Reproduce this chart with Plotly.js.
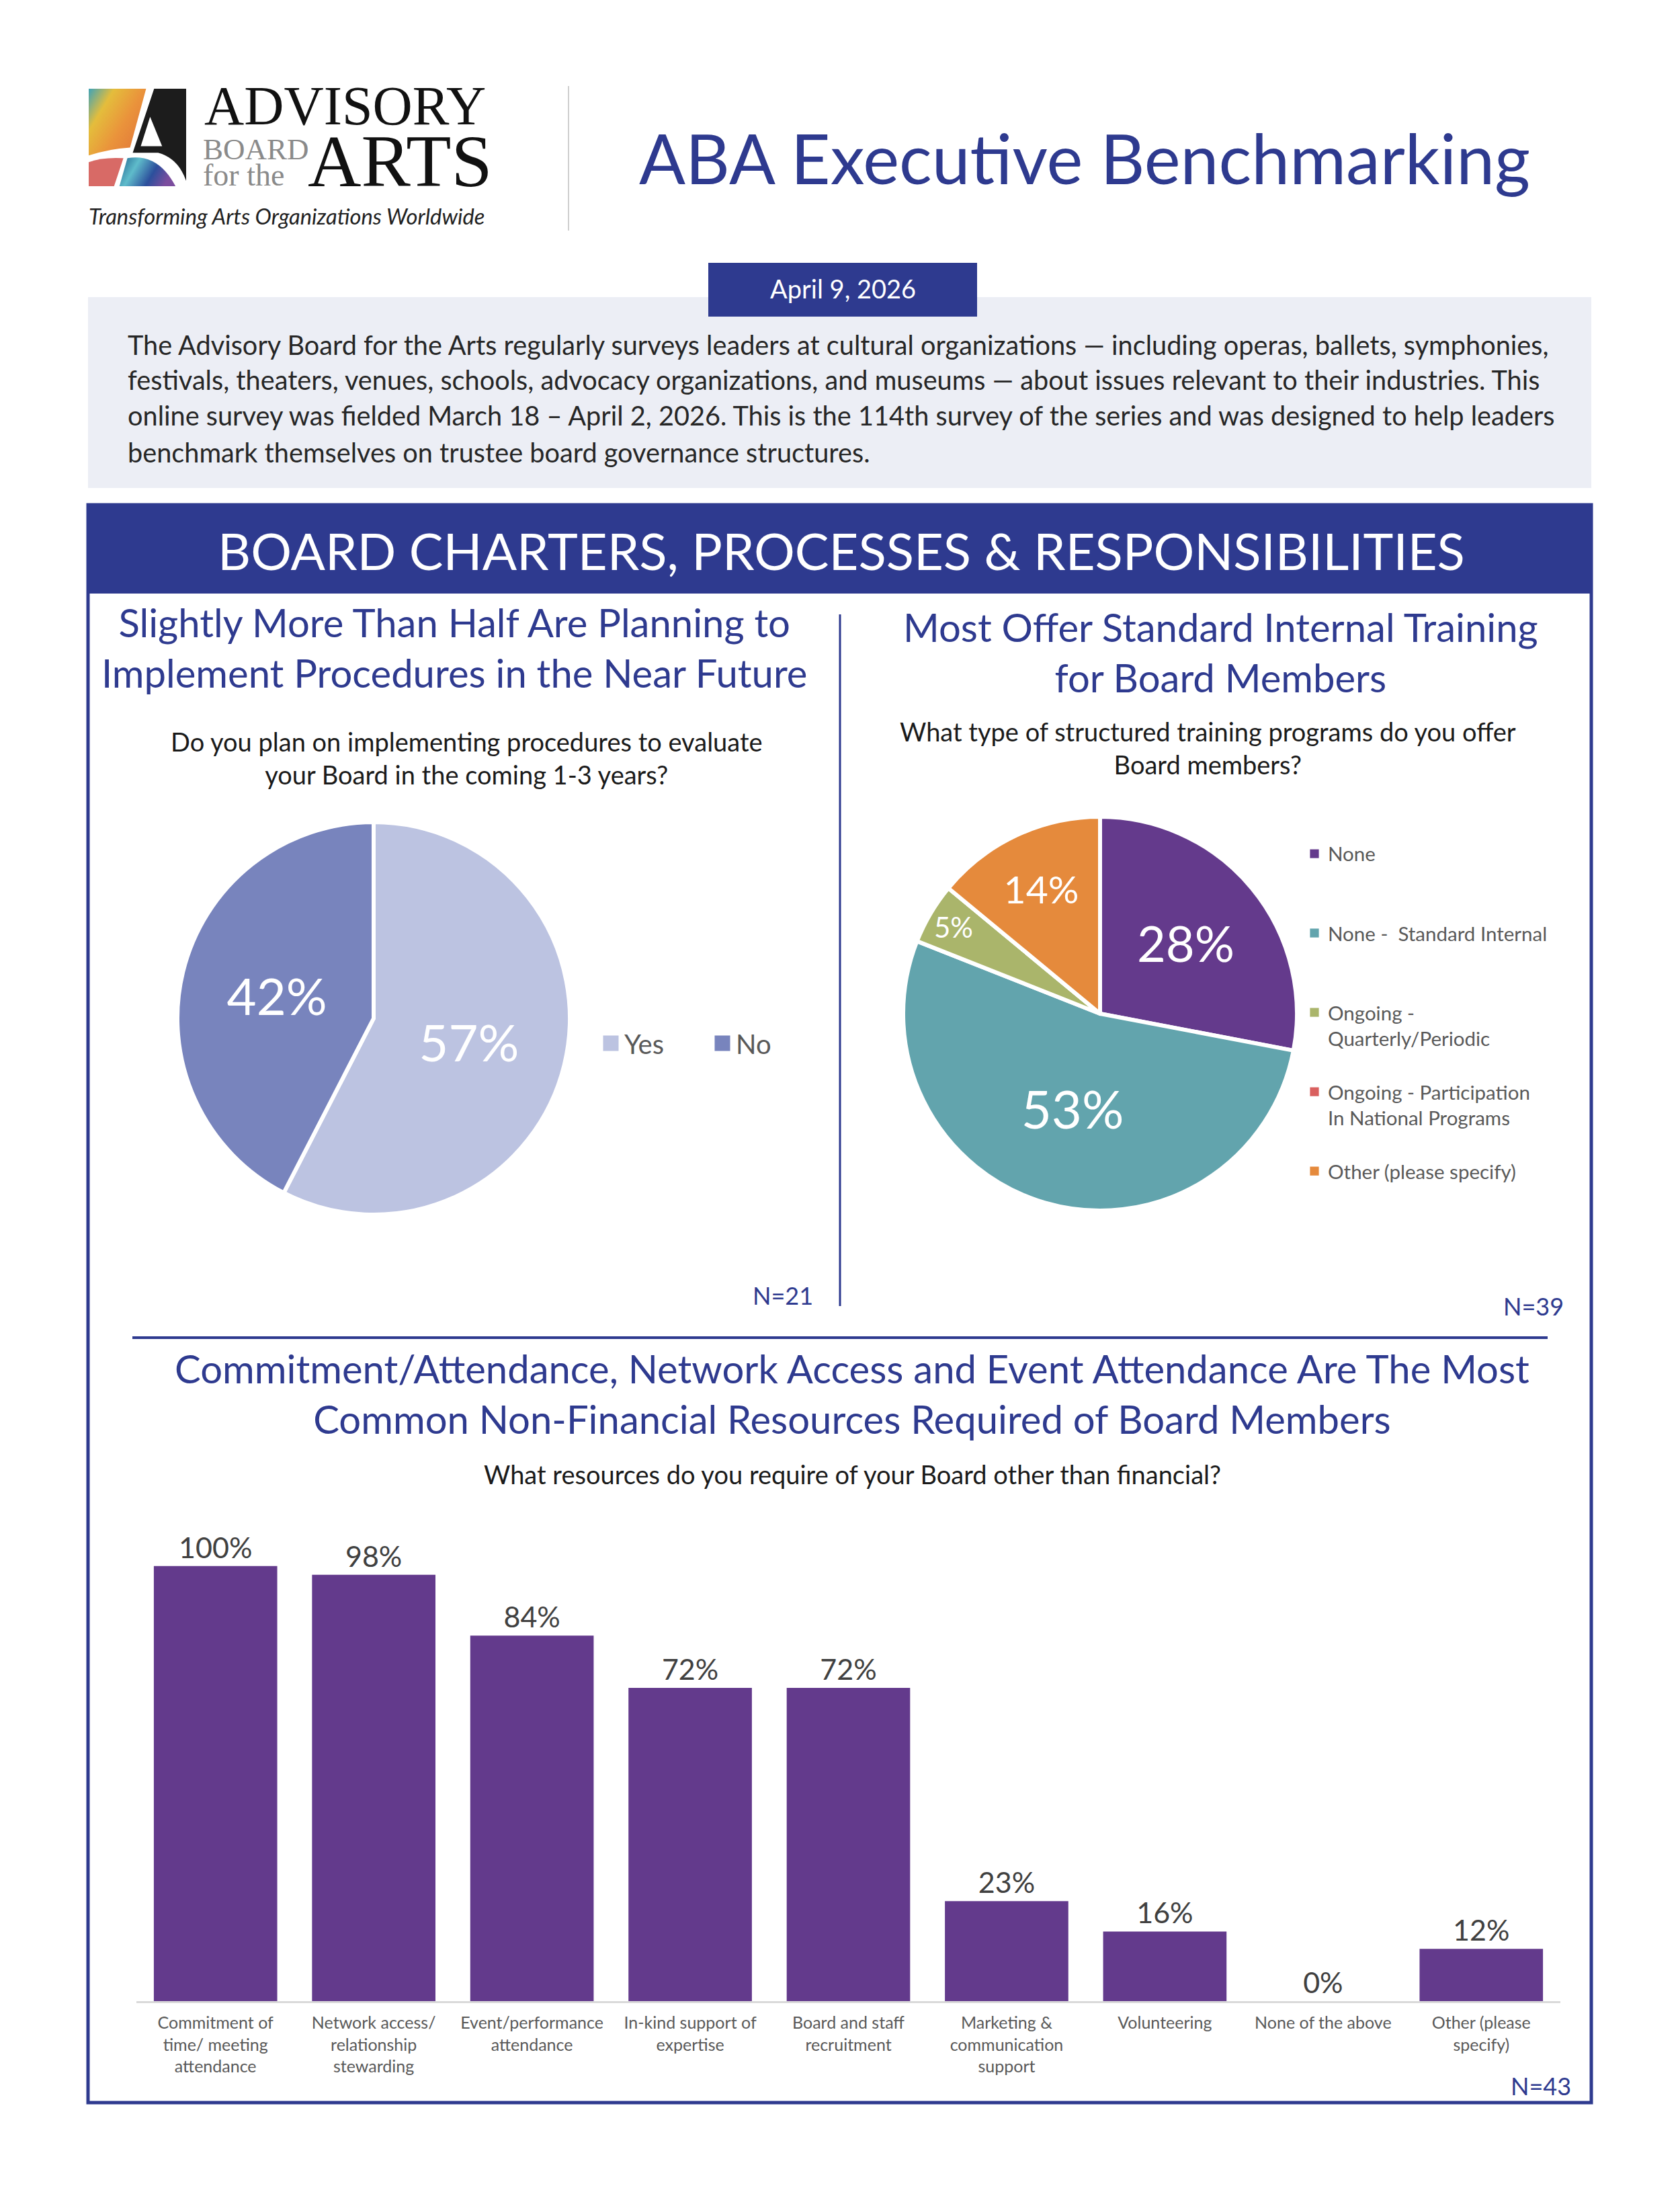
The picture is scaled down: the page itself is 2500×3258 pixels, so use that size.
<!DOCTYPE html>
<html>
<head>
<meta charset="utf-8">
<script src="https://cdn.plot.ly/plotly-3.0.1.min.js"></script>
<style>
html,body{margin:0;padding:0;background:#ffffff;}
#chart{width:2500px;height:3258px;}
</style>
</head>
<body>
<div id="chart"></div>
<script>
// ---------------- DATA ----------------
const evalLabels = ['Yes', 'No'];
const evalValues = [57, 42];
const evalColors = ['#BCC3E1', '#7884BD'];

const trainLegendLines = [
  ['None'],
  ['None -  Standard Internal'],
  ['Ongoing -', 'Quarterly/Periodic'],
  ['Ongoing - Participation', 'In National Programs'],
  ['Other (please specify)']
];
const trainValues = [28, 53, 5, 0, 14];
const trainColors = ['#643A8C', '#62A4AD', '#AAB56B', '#D9605F', '#E58A3C'];
const trainTextSizes = [74, 78, 42, 42, 57];

const resourceCats = [
  'Commitment of<br>time/ meeting<br>attendance',
  'Network access/<br>relationship<br>stewarding',
  'Event/performance<br>attendance',
  'In-kind support of<br>expertise',
  'Board and staff<br>recruitment',
  'Marketing &amp;<br>communication<br>support',
  'Volunteering',
  'None of the above',
  'Other (please<br>specify)'
];
const resourceValues = [100, 98, 84, 72, 72, 23, 16, 0, 12];

const paragraphLines = [
  'The Advisory Board for the Arts regularly surveys leaders at cultural organizations \u2014 including operas, ballets, symphonies,',
  'festivals, theaters, venues, schools, advocacy organizations, and museums \u2014 about issues relevant to their industries. This',
  'online survey was fielded March 18 \u2013 April 2, 2026. This is the 114th survey of the series and was designed to help leaders',
  'benchmark themselves on trustee board governance structures.'
];

// ---------------- HELPERS ----------------
const W = 2500, H = 3258;
const px = x => x / W;
const py = y => 1 - y / H;
const BLUE = '#2E3A8F';
const SANS = 'Lato, "Open Sans", "DejaVu Sans", sans-serif';
const SERIF = '"Liberation Serif", "DejaVu Serif", serif';

function ann(text, x, y, size, color, opts) {
  return Object.assign({
    text: text, x: px(x), y: py(y), xref: 'paper', yref: 'paper',
    xanchor: 'center', yanchor: 'middle', showarrow: false,
    font: {family: SANS, size: size, color: color}
  }, opts || {});
}
function rect(x0, y0, x1, y1, fill, line) {
  return Object.assign({type: 'rect', xref: 'paper', yref: 'paper',
    x0: px(x0), x1: px(x1), y0: py(y1), y1: py(y0),
    fillcolor: fill || 'rgba(0,0,0,0)', line: {width: 0}, layer: 'below'}, line ? {line: line} : {});
}
function line(x0, y0, x1, y1, color, width) {
  return {type: 'line', xref: 'paper', yref: 'paper', x0: px(x0), x1: px(x1), y0: py(y0), y1: py(y1),
    line: {color: color, width: width}, layer: 'below'};
}
function padLines(lines, n) {
  const out = lines.slice();
  while (out.length < n) out.push('\u00a0');
  return out.join('<br>');
}

// ---------------- LOGO (drawn artwork) ----------------
const logoSvg = '<svg xmlns="http://www.w3.org/2000/svg" viewBox="0 0 146 146" width="146" height="146">' +
  '<defs>' +
  '<linearGradient id="g1" x1="0" y1="0" x2="1" y2="0.7">' +
  '<stop offset="0" stop-color="#3fa3b8"/><stop offset="0.3" stop-color="#e4bd3c"/>' +
  '<stop offset="0.65" stop-color="#ea933b"/><stop offset="1" stop-color="#e2793a"/></linearGradient>' +
  '<linearGradient id="g2" x1="0" y1="0" x2="1" y2="0.3">' +
  '<stop offset="0" stop-color="#1d5f8c"/><stop offset="0.35" stop-color="#5fbccb"/>' +
  '<stop offset="0.7" stop-color="#2c4f9c"/><stop offset="1" stop-color="#7b4d9e"/></linearGradient>' +
  '</defs>' +
  '<path d="M0,0 H86 L62,88 Q30,90 0,100 Z" fill="url(#g1)"/>' +
  '<path d="M98,0 H146 V138 Q134,104 104,96 L66,96 L88,30 Z" fill="#1c1c1c"/>' +
  '<path d="M92,42 L78,86 L110,86 Z" fill="#ffffff"/>' +
  '<path d="M0,110 Q22,102 52,104 L38,146 H0 Z" fill="#d86a66"/>' +
  '<path d="M58,104 Q104,96 130,146 H46 Z" fill="url(#g2)"/>' +
  '</svg>';

// ---------------- TRACES ----------------
const pieEval = {
  type: 'pie', labels: evalLabels, values: evalValues,
  text: evalValues.map(v => v + '%'), textinfo: 'text',
  textposition: 'inside', insidetextorientation: 'horizontal',
  insidetextfont: {family: SANS, size: 76, color: '#ffffff'},
  marker: {colors: evalColors, line: {color: '#ffffff', width: 6}},
  sort: false, direction: 'clockwise', rotation: 0,
  domain: {x: [px(264), px(848)], y: [py(1807), py(1223)]},
  legend: 'legend', hoverinfo: 'skip'
};

const pieTrain = {
  type: 'pie', labels: trainLegendLines.map(l => padLines(l, 3)), values: trainValues,
  text: trainValues.map(v => v > 0 ? v + '%' : ''), textinfo: 'text',
  textposition: 'inside', insidetextorientation: 'horizontal',
  insidetextfont: {family: SANS, size: trainTextSizes, color: '#ffffff'},
  marker: {colors: trainColors, line: {color: '#ffffff', width: 6}},
  sort: false, direction: 'clockwise', rotation: 0,
  domain: {x: [px(1344), px(1930)], y: [py(1801), py(1215)]},
  legend: 'legend2', hoverinfo: 'skip'
};

const bars = {
  type: 'bar', x: resourceCats, y: resourceValues,
  marker: {color: '#633A8C'},
  texttemplate: '%{y}%', textposition: 'outside', cliponaxis: false,
  textfont: {family: SANS, size: 43, color: '#404040'},
  showlegend: false, hoverinfo: 'skip', xaxis: 'x', yaxis: 'y'
};

// ---------------- LAYOUT ----------------
const annotations = [
  ann('ABA Executive Benchmarking', 1614, 234, 102, BLUE),
  ann('April 9, 2026', 1254, 429, 38, '#ffffff'),
  ...paragraphLines.map((t, i) => ann(t, 188, [512, 565, 618, 672][i], 39.7, '#262626', {xanchor: 'left'})),
  ann('BOARD CHARTERS, PROCESSES &amp; RESPONSIBILITIES', 1252, 818, 76, '#ffffff'),
  ann('Slightly More Than Half Are Planning to<br>Implement Procedures in the Near Future', 676, 963, 58, BLUE),
  ann('Most Offer Standard Internal Training<br>for Board Members', 1816, 970, 58, BLUE),
  ann('Do you plan on implementing procedures to evaluate<br>your Board in the coming 1-3 years?', 694, 1127, 38, '#1a1a1a'),
  ann('What type of structured training programs do you offer<br>Board members?', 1798, 1112, 38, '#1a1a1a'),
  ann('N=21', 1212, 1927, 36, BLUE, {xanchor: 'right'}),
  ann('N=39', 2329, 1943, 36, BLUE, {xanchor: 'right'}),
  ann('Commitment/Attendance, Network Access and Event Attendance Are The Most<br>Common Non-Financial Resources Required of Board Members', 1268, 2073, 58, BLUE),
  ann('What resources do you require of your Board other than financial?', 1268, 2193, 38, '#1a1a1a'),
  ann('N=43', 2340, 3103, 36, BLUE, {xanchor: 'right'}),
  // logo wordmark
  ann('ADVISORY', 302, 158, 82, '#111111', {xanchor: 'left', font: {family: SERIF, size: 82, color: '#111111'}}),
  ann('BOARD', 300, 222, 45, '#8a8a8a', {xanchor: 'left', font: {family: SERIF, size: 45, color: '#8a8a8a'}}),
  ann('for the', 300, 260, 46, '#8a8a8a', {xanchor: 'left', font: {family: SERIF, size: 46, color: '#8a8a8a'}}),
  ann('ARTS', 456, 240, 110, '#111111', {xanchor: 'left', font: {family: SERIF, size: 110, color: '#111111'}}),
  ann('<i>Transforming Arts Organizations Worldwide</i>', 130, 321, 32.7, '#222222', {xanchor: 'left'})
];

const shapes = [
  line(846, 128, 846, 343, '#D0D0D0', 2),
  rect(131, 442, 2368, 726, '#ECEEF5'),
  rect(1054, 391, 1454, 471, BLUE),
  rect(131, 751, 2368, 883, BLUE),
  rect(131, 751, 2368, 3128, null, {color: BLUE, width: 5}),
  line(1250, 914, 1250, 1943, BLUE, 3),
  line(197, 1990, 2303, 1990, BLUE, 4)
];

const layout = {
  width: W, height: H,
  margin: {l: 0, r: 0, t: 0, b: 0, pad: 0},
  paper_bgcolor: '#ffffff', plot_bgcolor: 'rgba(0,0,0,0)',
  font: {family: SANS, color: '#333333'},
  showlegend: true,
  bargap: 0.22,
  xaxis: {
    domain: [px(203), px(2322)], anchor: 'y', type: 'category',
    showline: true, linecolor: '#D9D9D9', linewidth: 3, ticks: '',
    ticklabelstandoff: 8,
    showgrid: false, zeroline: false, fixedrange: true,
    tickfont: {family: SANS, size: 25, color: '#595959'}
  },
  yaxis: {
    domain: [py(2977), py(2265)], anchor: 'x', range: [0, 110],
    visible: false, showgrid: false, zeroline: false, fixedrange: true
  },
  legend: {
    orientation: 'h', x: px(889), xanchor: 'left', y: py(1519.5), yanchor: 'top',
    font: {family: SANS, size: 40, color: '#595959'},
    entrywidth: 121, entrywidthmode: 'pixels', bgcolor: 'rgba(0,0,0,0)', traceorder: 'normal'
  },
  legend2: {
    orientation: 'v', x: px(1936), xanchor: 'left', y: py(1244.3), yanchor: 'top',
    font: {family: SANS, size: 29.5, color: '#595959'},
    valign: 'top', bgcolor: 'rgba(0,0,0,0)', traceorder: 'normal'
  },
  images: [{
    source: 'data:image/svg+xml;base64,' + btoa(logoSvg),
    xref: 'paper', yref: 'paper', x: px(132), y: py(132),
    sizex: 145 / W, sizey: 145 / H, xanchor: 'left', yanchor: 'top',
    sizing: 'stretch', layer: 'above'
  }],
  annotations: annotations,
  shapes: shapes
};

Plotly.newPlot('chart', [pieEval, pieTrain, bars], layout, {displayModeBar: false, staticPlot: true}).then(gd => {
  const grow = (sel, s) => gd.querySelectorAll(sel).forEach(p => {
    const t = p.getAttribute('transform') || '';
    p.setAttribute('transform', t + ' scale(' + s + ')');
    p.style.strokeWidth = '0';
  });
  grow('g.legend .legendpoints path', 1.92);
  grow('g.legend2 .legendpoints path', 1.1);
});
</script>
</body>
</html>
